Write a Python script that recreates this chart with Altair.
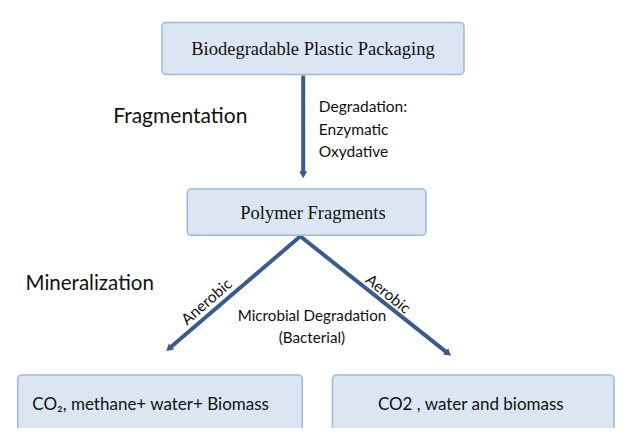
import altair as alt
import pandas as pd

# ---- content ----
box_labels = ["Biodegradable Plastic Packaging", "Polymer Fragments",
              "CO₂, methane+ water+ Biomass", "CO2 , water and biomass"]
box_font = ["serif", "serif", "sans", "sans"]
# layout (pixel frame of the 623x436 picture)
box_x1 = [158, 184, 10, 333]
box_x2 = [468, 429, 302, 622]
box_y1 = [15, 188, 381, 381]
box_y2 = [69, 236, 445, 445]
box_tx = [313, 313, 25, 475]
box_ty = [43, 213, 412, 412]
box_align = ["center", "center", "left", "center"]

arrow_x1 = [303, 300, 300]
arrow_y1 = [70, 237, 237]
arrow_x2 = [303, 166, 451]
arrow_y2 = [172, 353, 358]
head_angle = [180, 229, 129]

label_text = ["Fragmentation", "Mineralization", "Degradation:", "Enzymatic", "Oxydative",
              "Microbial Degradation", "(Bacterial)", "Anerobic", "Aerobic"]
label_x = [108, 18, 319, 319, 319, 312, 312, 204, 390]
label_y = [113, 287, 103, 127, 150, 320, 343, 305, 297]
label_size = [21, 20.5, 15.5, 15.5, 15.5, 15.2, 15.2, 15.5, 15.5]
label_angle = [0, 0, 0, 0, 0, 0, 0, 319, 39]
label_align = ["left", "left", "left", "left", "left", "center", "center", "center", "center"]

boxes = pd.DataFrame(dict(label=box_labels, kind=box_font, x1=box_x1, x2=box_x2,
                          y1=box_y1, y2=box_y2, tx=box_tx, ty=box_ty, anchor=box_align))
arrows = pd.DataFrame(dict(x1=arrow_x1, y1=arrow_y1, x2=arrow_x2, y2=arrow_y2, ang=head_angle))
labels = pd.DataFrame(dict(text=label_text, x=label_x, y=label_y, fs=label_size,
                           ang=label_angle, anchor=label_align))

XS = alt.Scale(domain=[0, 623], nice=False, zero=False)
YS = alt.Scale(domain=[0, 436], nice=False, zero=False, reverse=True)

ARROW = "#3a5b8c"

rects = alt.Chart(boxes).mark_rect(
    cornerRadius=4, fill="#dce6f2", stroke="#9db8d9", strokeWidth=1.5, clip=True
).encode(
    x=alt.X("x1:Q", scale=XS, axis=None), x2="x2:Q",
    y=alt.Y("y1:Q", scale=YS, axis=None), y2="y2:Q",
)

def box_text(font_kind, font, size, align):
    d = boxes[(boxes["kind"] == font_kind) & (boxes["anchor"] == align)]
    return alt.Chart(d).mark_text(font=font, fontSize=size, color="#111111",
                                  align=align, baseline="middle").encode(
        x=alt.X("tx:Q", scale=XS, axis=None),
        y=alt.Y("ty:Q", scale=YS, axis=None),
        text="label:N",
    )

t_serif = box_text("serif", "Liberation Serif", 18.5, "center")
t_sans_l = box_text("sans", "Lato", 17, "left")
t_sans_c = box_text("sans", "Lato", 17, "center")

rules = alt.Chart(arrows).mark_rule(color=ARROW, strokeWidth=4).encode(
    x=alt.X("x1:Q", scale=XS, axis=None), x2="x2:Q",
    y=alt.Y("y1:Q", scale=YS, axis=None), y2="y2:Q",
)
heads = alt.Chart(arrows).mark_point(shape="triangle", filled=True, size=65,
                                     color=ARROW, opacity=1).encode(
    x=alt.X("x2:Q", scale=XS, axis=None),
    y=alt.Y("y2:Q", scale=YS, axis=None),
    angle=alt.Angle("ang:Q", scale=None),
)

def label_layer(align):
    d = labels[labels["anchor"] == align]
    return alt.Chart(d).mark_text(font="Lato", color="#111111", align=align,
                                  baseline="middle").encode(
        x=alt.X("x:Q", scale=XS, axis=None),
        y=alt.Y("y:Q", scale=YS, axis=None),
        text="text:N",
        size=alt.Size("fs:Q", scale=None),
        angle=alt.Angle("ang:Q", scale=None),
    )

chart = alt.layer(
    rules, heads, rects, t_serif, t_sans_l, t_sans_c,
    label_layer("left"), label_layer("center")
).properties(
    width=607, height=420, padding=0,
    autosize=alt.AutoSizeParams(type="none"),
    background="white",
).configure_view(stroke=None)

chart.save("out.html", embed_options={"renderer": "svg", "actions": False})
